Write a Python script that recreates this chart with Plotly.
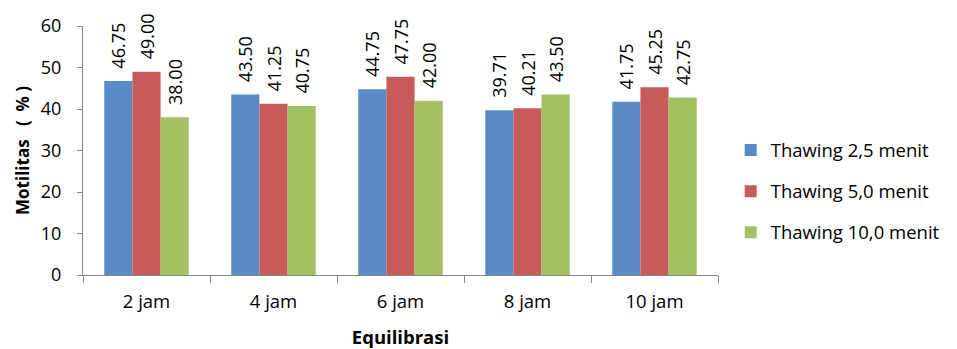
import plotly.graph_objects as go

categories = ["2 jam", "4 jam", "6 jam", "8 jam", "10 jam"]
thaw_25 = [46.75, 43.50, 44.75, 39.71, 41.75]
thaw_50 = [49.00, 41.25, 47.75, 40.21, 45.25]
thaw_100 = [38.00, 40.75, 42.00, 43.50, 42.75]
series_names = ["Thawing 2,5 menit", "Thawing 5,0 menit", "Thawing 10,0 menit"]
colors = ["#5A8AC6", "#C75B59", "#A2C162"]

FONT = "Open Sans"
FS = 18
NB = "\u00a0"
fig = go.Figure()
for i, (name, vals, col) in enumerate(zip(series_names, [thaw_25, thaw_50, thaw_100], colors)):
    fig.add_trace(go.Bar(
        x=categories, y=vals, name=name,
        marker=dict(color=col, line=dict(width=0)),
        text=[NB * 2 + f"{v:.2f}" for v in vals],
        textposition="outside", textangle=-90, constraintext="none",
        textfont=dict(family=FONT, size=FS, color="#000000"),
        cliponaxis=False,
        legendgroup=f"g{i}",
    ))

fig.update_layout(
    width=949, height=341,
    margin=dict(l=75, r=234, t=18, b=74),
    paper_bgcolor="white", plot_bgcolor="white",
    barmode="group", bargap=0.335, bargroupgap=0,
    font=dict(family=FONT, size=FS, color="#000000"),
    showlegend=True,
    legend=dict(x=1.02, xanchor="left", y=0.335, yanchor="middle",
                font=dict(family=FONT, size=18.5, color="#000000"),
                tracegroupgap=14, itemwidth=30),
)
ytitle = "<b>Motilitas" + NB * 3 + "(" + NB * 2 + "%" + NB + ")</b>"
fig.update_yaxes(range=[0, 60], dtick=10, showgrid=False, zeroline=False, automargin=False,
                 showline=True, linecolor="#868686", linewidth=1,
                 ticks="outside", ticklen=5, tickcolor="#868686", ticklabelstandoff=12,
                 tickfont=dict(family=FONT, size=FS),
                 title=dict(text=ytitle, font=dict(family=FONT, size=17), standoff=6))
fig.update_xaxes(showgrid=False, showline=True, linecolor="#868686", linewidth=1, automargin=False,
                 ticks="outside", ticklen=7, tickcolor="#868686", tickson="boundaries",
                 ticklabelstandoff=10,
                 tickfont=dict(family=FONT, size=18.5),
                 title=dict(text="<b>Equilibrasi</b>", font=dict(family=FONT, size=18.5), standoff=22))

fig.write_html("out.html")
